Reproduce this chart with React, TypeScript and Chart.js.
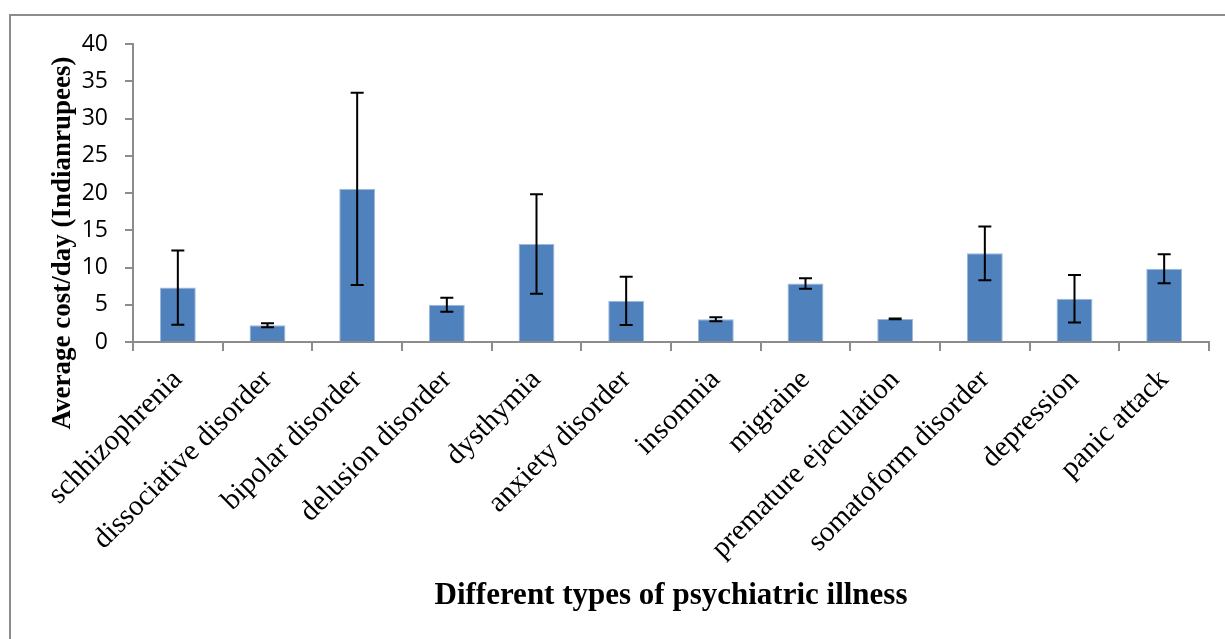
import React, { useEffect, useRef } from "react";
import { Chart, registerables } from "chart.js";

Chart.register(...registerables);

const categories = [
  "schhizophrenia",
  "dissociative disorder",
  "bipolar disorder",
  "delusion disorder",
  "dysthymia",
  "anxiety disorder",
  "insomnia",
  "migraine",
  "premature ejaculation",
  "somatoform disorder",
  "depression",
  "panic attack",
];

const meanCost = [7.3, 2.24, 20.55, 5.0, 13.15, 5.52, 3.05, 7.85, 3.1, 11.9, 5.8, 9.82];
const errorAmount = [4.97, 0.27, 12.9, 0.94, 6.67, 3.25, 0.27, 0.7, 0.05, 3.62, 3.18, 1.95];

const yTicks = [0, 5, 10, 15, 20, 25, 30, 35, 40];

const yTitle = "Average cost/day (Indianrupees)";
const xTitle = "Different types of psychiatric illness";

const errorBarPlugin = {
  id: "errorBars",
  afterDatasetsDraw(chart: any) {
    const meta = chart.getDatasetMeta(0);
    const yScale = chart.scales.y;
    const ctx = chart.ctx;
    ctx.save();
    ctx.strokeStyle = "#000000";
    ctx.lineWidth = 2;
    meta.data.forEach((bar: any, i: number) => {
      const v = meanCost[i];
      const e = errorAmount[i];
      const x = bar.x;
      const yTop = yScale.getPixelForValue(v + e);
      const yBot = yScale.getPixelForValue(v - e);
      const cap = 6.5;
      ctx.beginPath();
      ctx.moveTo(x, yTop);
      ctx.lineTo(x, yBot);
      ctx.moveTo(x - cap, yTop);
      ctx.lineTo(x + cap, yTop);
      ctx.moveTo(x - cap, yBot);
      ctx.lineTo(x + cap, yBot);
      ctx.stroke();
    });
    ctx.restore();
  },
};

const framePlugin = {
  id: "frameAndYTitle",
  beforeDraw(chart: any) {
    const ctx = chart.ctx;
    ctx.save();
    ctx.fillStyle = "#ffffff";
    ctx.fillRect(0, 0, chart.width, chart.height);
    ctx.strokeStyle = "#8c8c8c";
    ctx.lineWidth = 2;
    ctx.beginPath();
    ctx.moveTo(10, chart.height);
    ctx.lineTo(10, 15);
    ctx.lineTo(chart.width, 15);
    ctx.stroke();
    ctx.restore();
  },
  afterDraw(chart: any) {
    const ctx = chart.ctx;
    ctx.save();
    ctx.translate(63, 243);
    ctx.rotate(-Math.PI / 2);
    ctx.font = "bold 27px 'Liberation Serif', 'Times New Roman', serif";
    ctx.fillStyle = "#000000";
    ctx.textAlign = "center";
    ctx.textBaseline = "middle";
    ctx.fillText(yTitle, 0, 0);
    ctx.restore();
  },
};

export default function App() {
  const canvasRef = useRef<HTMLCanvasElement | null>(null);

  useEffect(() => {
    if (!canvasRef.current) return;
    const chart = new Chart(canvasRef.current, {
      type: "bar",
      data: {
        labels: categories,
        datasets: [
          {
            data: meanCost,
            backgroundColor: "#4F81BD",
            borderColor: "#9DB8DB",
            borderWidth: 1,
            barPercentage: 0.4,
            categoryPercentage: 1.0,
          },
        ],
      },
      options: {
        animation: false,
        responsive: false,
        maintainAspectRatio: false,
        events: [],
        layout: { padding: { left: 0, right: 16, top: 44, bottom: 0 } },
        plugins: {
          legend: { display: false },
          tooltip: { enabled: false },
        },
        scales: {
          x: {
            afterFit(scale: any) {
              scale.height = 297;
            },
            grid: {
              drawOnChartArea: false,
              drawTicks: true,
              tickLength: 9,
              color: "#8c8c8c",
              lineWidth: 2,
              offset: true,
            },
            border: { color: "#8c8c8c", width: 2 },
            ticks: {
              maxRotation: 45,
              minRotation: 45,
              autoSkip: false,
              padding: 12,
              color: "#000000",
              font: { family: "'Liberation Serif', 'Times New Roman', serif", size: 29 },
            },
            title: {
              display: true,
              text: xTitle,
              color: "#000000",
              font: { family: "'Liberation Serif', 'Times New Roman', serif", size: 31, weight: "bold" },
              padding: { top: 0, bottom: 24 },
            },
          },
          y: {
            min: 0,
            max: 40,
            afterFit(scale: any) {
              scale.width = 133;
            },
            afterBuildTicks(scale: any) {
              scale.ticks = yTicks.map((v) => ({ value: v }));
            },
            grid: {
              drawOnChartArea: false,
              drawTicks: true,
              tickLength: 8,
              color: "#8c8c8c",
              lineWidth: 2,
            },
            border: { color: "#8c8c8c", width: 2 },
            ticks: {
              padding: 17,
              color: "#000000",
              font: { family: "'Open Sans', sans-serif", size: 23 },
            },
          },
        },
      },
      plugins: [errorBarPlugin, framePlugin],
    });
    return () => chart.destroy();
  }, []);

  return (
    <div style={{ position: "fixed", left: 0, top: 0, width: 1225, height: 639, background: "#ffffff" }}>
      <canvas ref={canvasRef} width={1225} height={639} style={{ display: "block", width: 1225, height: 639 }} />
    </div>
  );
}
